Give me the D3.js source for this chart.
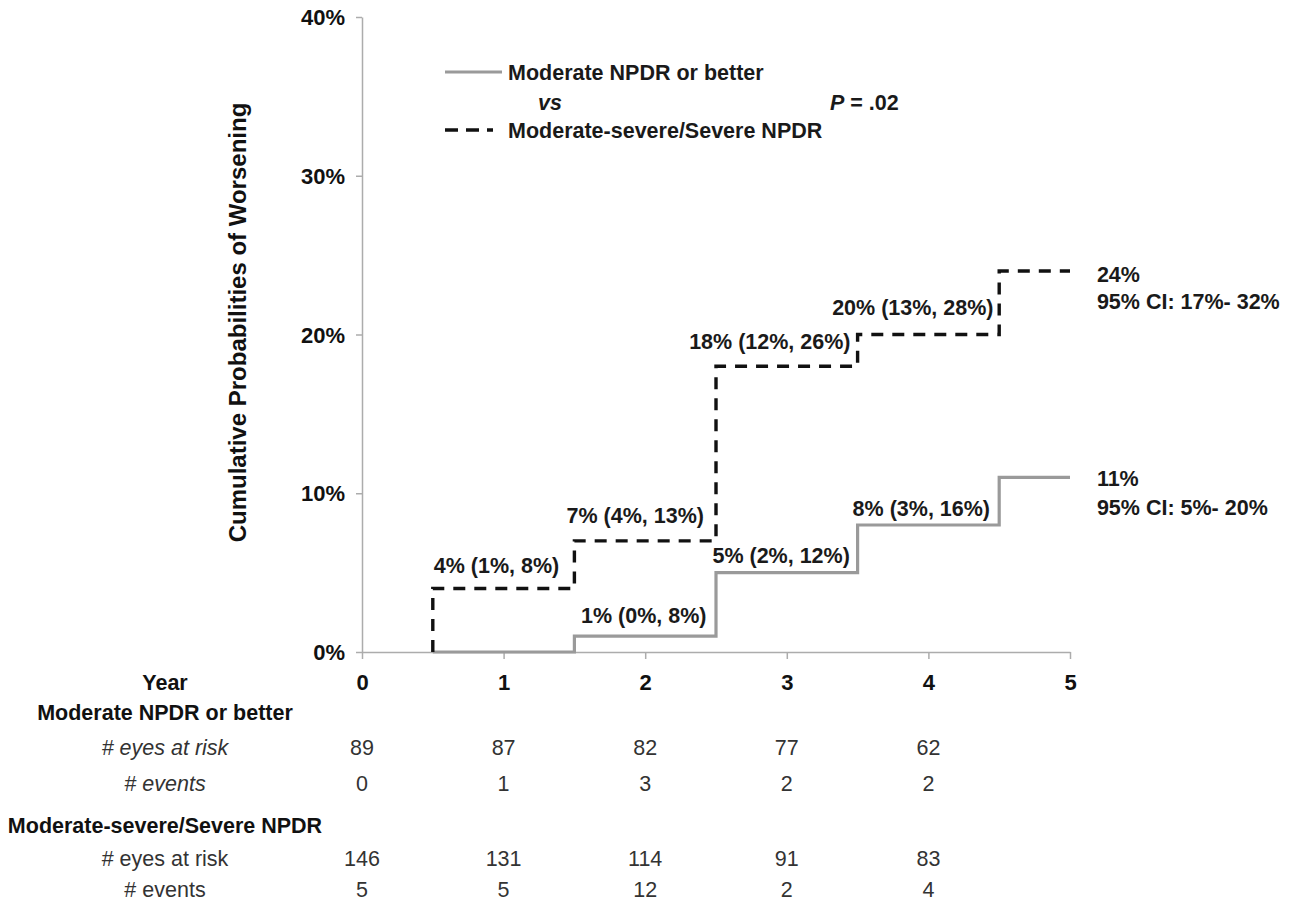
<!DOCTYPE html>
<html><head><meta charset="utf-8">
<script src="https://cdn.jsdelivr.net/npm/d3@7"></script>
<style>
body{margin:0;background:#fff}
svg{display:block}
text{font-family:"Liberation Sans",Arial,Helvetica,sans-serif}
</style>
</head><body>
<svg id="c" width="1297" height="909"></svg>
<script>
// ---------- data ----------
const years = [0, 1, 2, 3, 4, 5];
const yTicks = [0, 10, 20, 30, 40];
const moderateName = "Moderate NPDR or better";
const severeName = "Moderate-severe/Severe NPDR";
const moderateTimes = [0.5, 1.5, 2.5, 3.5, 4.5, 5];
const moderateValues = [0, 1, 5, 8, 11, 11];
const severeTimes = [0.5, 0.5, 1.5, 2.5, 3.5, 4.5, 5];
const severeValues = [0, 4, 7, 18, 20, 24, 24];
const moderateAtRisk = [89, 87, 82, 77, 62];
const moderateEvents = [0, 1, 3, 2, 2];
const severeAtRisk = [146, 131, 114, 91, 83];
const severeEvents = [5, 5, 12, 2, 4];
// annotation texts with their anchor (year, percent)
const stepLabels = [
  {text: "4% (1%, 8%)", x: 0.95, y: 5.42},
  {text: "7% (4%, 13%)", x: 1.93, y: 8.63},
  {text: "18% (12%, 26%)", x: 2.88, y: 19.53},
  {text: "20% (13%, 28%)", x: 3.89, y: 21.73},
  {text: "1% (0%, 8%)", x: 1.99, y: 2.33},
  {text: "5% (2%, 12%)", x: 2.96, y: 6.11},
  {text: "8% (3%, 16%)", x: 3.95, y: 9.07}
];
const endLabels = [
  {text: "24%", x: 5.19, y: 23.8},
  {text: "95% CI: 17%- 32%", x: 5.19, y: 22.05},
  {text: "11%", x: 5.19, y: 10.96},
  {text: "95% CI: 5%- 20%", x: 5.19, y: 9.13}
];

// ---------- drawing ----------
const svg = d3.select("#c");
svg.append("rect").attr("width",1297).attr("height",909).attr("fill","#fff");

const x = d3.scaleLinear().domain([0, 5]).range([362, 1070]);
const y = d3.scaleLinear().domain([0, 40]).range([652, 17]);

const axisColor = "#acacac";

// y axis
const gy = svg.append("g").attr("transform", `translate(${x(0)},0)`)
  .call(d3.axisLeft(y).tickValues(yTicks).tickFormat(d => d + "%").tickSize(6).tickSizeOuter(0));
gy.select(".domain").attr("stroke", axisColor).attr("stroke-width", 1.5);
gy.selectAll(".tick line").attr("stroke", axisColor).attr("stroke-width", 1.5);
gy.selectAll(".tick text").attr("x", -17).attr("dy", "0.35em")
  .attr("font-size", 22).attr("font-weight", "bold").attr("fill", "#111")
  .attr("font-family", '"Liberation Sans",Arial,sans-serif');

// x axis
const gx = svg.append("g").attr("transform", `translate(0,${y(0)})`)
  .call(d3.axisBottom(x).tickValues(years).tickFormat(d3.format("d")).tickSize(7).tickSizeOuter(0));
gx.select(".domain").attr("stroke", axisColor).attr("stroke-width", 1.5);
gx.selectAll(".tick line").attr("stroke", axisColor).attr("stroke-width", 1.5);
gx.selectAll(".tick text").attr("y", 30).attr("dy", "0.35em")
  .attr("font-size", 22).attr("font-weight", "bold").attr("fill", "#111")
  .attr("font-family", '"Liberation Sans",Arial,sans-serif');

// y title
svg.append("text")
  .attr("transform", `translate(238,${(97 + 548) / 2}) rotate(-90)`)
  .attr("text-anchor", "middle").attr("dy", "0.35em")
  .attr("font-size", 24).attr("font-weight", "bold").attr("fill", "#111")
  .text("Cumulative Probabilities of Worsening");

// step lines
const line = d3.line().x(d => x(d[0])).y(d => y(d[1])).curve(d3.curveStepAfter);
svg.append("path")
  .datum(d3.zip(moderateTimes, moderateValues))
  .attr("d", line).attr("fill", "none")
  .attr("stroke", "#9a9a9a").attr("stroke-width", 3.2);
svg.append("path")
  .datum(d3.zip(severeTimes, severeValues))
  .attr("d", line).attr("fill", "none")
  .attr("stroke", "#111").attr("stroke-width", 3.4)
  .attr("stroke-dasharray", "12,9");

// step annotations
svg.append("g").selectAll("text").data(stepLabels).join("text")
  .attr("x", d => x(d.x)).attr("y", d => y(d.y)).attr("dy", "0.35em")
  .attr("text-anchor", "middle")
  .attr("font-size", 21.5).attr("font-weight", "bold").attr("fill", "#1a1a1a")
  .text(d => d.text);
svg.append("g").selectAll("text").data(endLabels).join("text")
  .attr("x", d => x(d.x)).attr("y", d => y(d.y)).attr("dy", "0.35em")
  .attr("text-anchor", "start")
  .attr("font-size", 21.5).attr("font-weight", "bold").attr("fill", "#1a1a1a")
  .text(d => d.text);

// legend
const lg = svg.append("g");
lg.append("line").attr("x1", 445).attr("x2", 502).attr("y1", 72).attr("y2", 72)
  .attr("stroke", "#9a9a9a").attr("stroke-width", 3.2);
lg.append("text").attr("x", 508).attr("y", 72).attr("dy", "0.35em")
  .attr("font-size", 21.5).attr("font-weight", "bold").attr("fill", "#1a1a1a").text(moderateName);
lg.append("text").attr("x", 538).attr("y", 102).attr("dy", "0.35em")
  .attr("font-size", 21.5).attr("font-weight", "bold").attr("font-style", "italic").attr("fill", "#1a1a1a").text("vs");
const pt = lg.append("text").attr("x", 830).attr("y", 102).attr("dy", "0.35em")
  .attr("font-size", 21.5).attr("font-weight", "bold").attr("fill", "#1a1a1a");
pt.append("tspan").attr("font-style", "italic").text("P");
pt.append("tspan").text(" = .02");
lg.append("line").attr("x1", 445).attr("x2", 493).attr("y1", 130).attr("y2", 130)
  .attr("stroke", "#111").attr("stroke-width", 3.4).attr("stroke-dasharray", "13,8");
lg.append("text").attr("x", 508).attr("y", 130).attr("dy", "0.35em")
  .attr("font-size", 21.5).attr("font-weight", "bold").attr("fill", "#1a1a1a").text(severeName);

// risk table
const tcx = 165;
const tab = svg.append("g");
function rowLabel(txt, yy, bold, italic) {
  tab.append("text").attr("x", tcx).attr("y", yy).attr("dy", "0.35em")
    .attr("text-anchor", "middle").attr("font-size", 21.5)
    .attr("font-weight", bold ? "bold" : "normal")
    .attr("font-style", italic ? "italic" : "normal")
    .attr("fill", bold ? "#111" : "#333").text(txt);
}
function rowValues(vals, yy) {
  tab.append("g").selectAll("text").data(vals).join("text")
    .attr("x", (d, i) => x(years[i])).attr("y", yy).attr("dy", "0.35em")
    .attr("text-anchor", "middle").attr("font-size", 21.5).attr("fill", "#333")
    .text(d => d);
}
rowLabel("Year", 682, true, false);
rowLabel(moderateName, 712, true, false);
rowLabel("# eyes at risk", 747, false, true);
rowValues(moderateAtRisk, 747);
rowLabel("# events", 783, false, true);
rowValues(moderateEvents, 783);
rowLabel(severeName, 825, true, false);
rowLabel("# eyes at risk", 858, false, false);
rowValues(severeAtRisk, 858);
rowLabel("# events", 889, false, false);
rowValues(severeEvents, 889);
</script>
</body></html>
